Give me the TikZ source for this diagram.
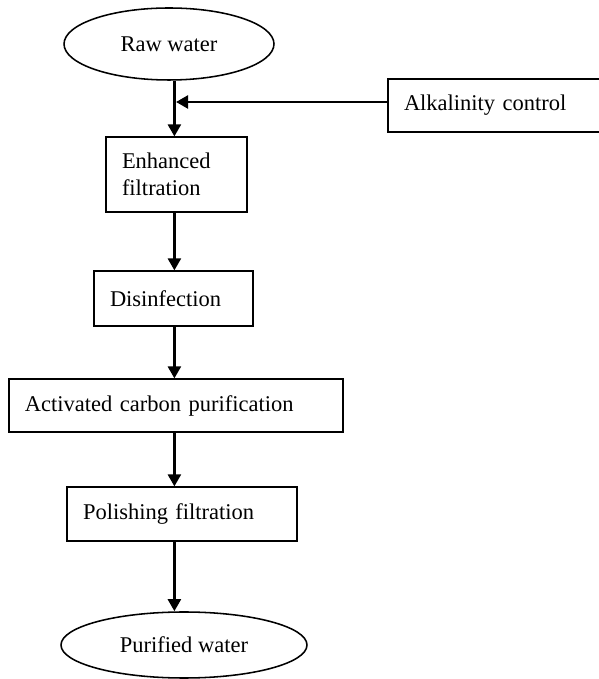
\documentclass[tikz,border=0pt]{standalone}
\usepackage{fontspec}
\setmainfont{Liberation Serif}
\usetikzlibrary{shapes, arrows.meta, positioning, calc}
\tikzstyle{arrow} = [-{Triangle[length=3mm,width=3.2mm]}, line width=2pt]
\tikzstyle{stage} = [draw, rectangle, line width=0.8pt, inner xsep=0.4cm, align=left]
\tikzstyle{water} = [draw, ellipse, line width=1.1pt, inner sep=0pt]

\begin{document}
\begin{tikzpicture}[every node/.style={font=\fontsize{16}{19}\selectfont}]
    \useasboundingbox (0,0) rectangle (14.95,16.975);

    % --- raw water node
    \node[water, minimum width=5.25cm, minimum height=1.8cm] (raw) at (4.225, 15.875) {Raw water\hspace{0.48cm}};
    % --- alkalinity control
    \node[stage, text width=4.5cm, minimum height=1.325cm] (alk) at (12.35, 14.3375) {Alkalinity control};
    \coordinate (dose) at (4.4, 14.425);
    \coordinate (spine) at (4.36, 0);

    % --- treatment stages
    \node[stage, text width=2.725cm, minimum height=1.875cm] (enh) at (4.4125, 12.6125) {Enhanced\\filtration};
    \node[stage, text width=3.175cm, minimum height=1.375cm] (dis) at (4.3375, 9.5125) {Disinfection};
    \node[stage, text width=7.55cm, minimum height=1.325cm] (act) at (4.4, 6.8375) {Activated carbon purification};
    \node[stage, text width=4.95cm, minimum height=1.35cm] (pol) at (4.55, 4.125) {Polishing filtration};

    % --- purified water node
    \node[water, minimum width=6.15cm, minimum height=1.65cm] (pur) at (4.6, 0.85) {Purified water\hspace{0.38cm}};

    % --- flow
    \draw[arrow] (alk.west |- dose) -- (dose);
    \draw[arrow] (raw.south -| spine) -- (enh.north -| spine);
    \draw[arrow] (enh.south -| spine) -- (dis.north -| spine);
    \draw[arrow] (dis.south -| spine) -- (act.north -| spine);
    \draw[arrow] (act.south -| spine) -- (pol.north -| spine);
    \draw[arrow] (pol.south -| spine) -- (pur.north -| spine);

\end{tikzpicture}
\end{document}
